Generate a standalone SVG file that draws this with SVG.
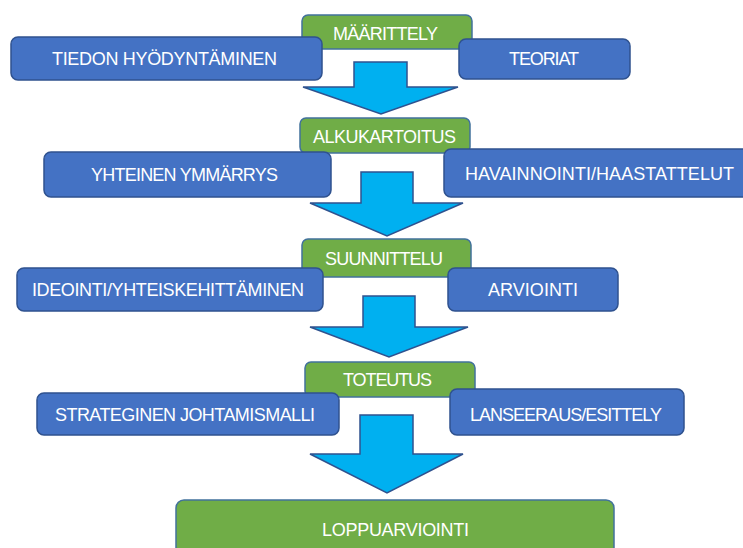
<svg xmlns="http://www.w3.org/2000/svg" width="743" height="548" viewBox="0 0 743 548">
<style>
.g{fill:#70AD47;stroke:#41719C;stroke-width:1.5}
.b{fill:#4472C4;stroke:#2F528F;stroke-width:1.5}
.a{fill:#00B0F0;stroke:#2F528F;stroke-width:1.5;stroke-linejoin:miter}
text{font-family:"Liberation Sans",Arial,sans-serif;font-size:18px;fill:#FFFFFF;text-anchor:middle}
</style>
<rect width="743" height="548" fill="#FFFFFF"/>
<g id="connectors">
<path class="a" d="M354,62 H407 V87 H458 L381,114 L303,87 H354 Z"/>
<path class="a" d="M361,172 H413 V203 H463 L387,236 L310,203 H361 Z"/>
<path class="a" d="M363,296 H415 V327 H468 L389,357 L310,327 H363 Z"/>
<path class="a" d="M360,415 H413 V454 H463 L387,493 L310,454 H360 Z"/>
</g>
<g id="maarittely"><rect class="g" x="302" y="15" width="170" height="34" rx="6"/><text x="385.5" y="40" textLength="105" lengthAdjust="spacing">MÄÄRITTELY</text></g>
<g id="tiedon"><rect class="b" x="11" y="37" width="311" height="43" rx="7"/><text x="164.5" y="65" textLength="225" lengthAdjust="spacing">TIEDON HYÖDYNTÄMINEN</text></g>
<g id="teoriat"><rect class="b" x="459" y="39" width="171" height="40" rx="7"/><text x="544" y="65" textLength="70" lengthAdjust="spacing">TEORIAT</text></g>
<g id="alkukartoitus"><rect class="g" x="300" y="118" width="170" height="35" rx="6"/><text x="384.5" y="143" textLength="143" lengthAdjust="spacing">ALKUKARTOITUS</text></g>
<g id="yhteinen"><rect class="b" x="44" y="152" width="287" height="45" rx="7"/><text x="184.5" y="181" textLength="187" lengthAdjust="spacing">YHTEINEN YMMÄRRYS</text></g>
<g id="havainnointi"><rect class="b" x="444" y="149" width="305" height="48" rx="7"/><text x="599.5" y="180" textLength="269" lengthAdjust="spacing">HAVAINNOINTI/HAASTATTELUT</text></g>
<g id="suunnittelu"><rect class="g" x="302" y="239" width="169" height="38" rx="6"/><text x="384" y="265" textLength="118" lengthAdjust="spacing">SUUNNITTELU</text></g>
<g id="ideointi"><rect class="b" x="17" y="268" width="306" height="43" rx="7"/><text x="168" y="296" textLength="272" lengthAdjust="spacing">IDEOINTI/YHTEISKEHITTÄMINEN</text></g>
<g id="arviointi"><rect class="b" x="448" y="268" width="170" height="43" rx="7"/><text x="533" y="296" textLength="90" lengthAdjust="spacing">ARVIOINTI</text></g>
<g id="toteutus"><rect class="g" x="305" y="362" width="170" height="35" rx="6"/><text x="387.5" y="386" textLength="89" lengthAdjust="spacing">TOTEUTUS</text></g>
<g id="strateginen"><rect class="b" x="37" y="393" width="302" height="42" rx="7"/><text x="185" y="421" textLength="260" lengthAdjust="spacing">STRATEGINEN JOHTAMISMALLI</text></g>
<g id="lanseeraus"><rect class="b" x="450" y="389" width="234" height="46" rx="7"/><text x="566" y="421" textLength="192" lengthAdjust="spacing">LANSEERAUS/ESITTELY</text></g>
<g id="loppuarviointi"><rect class="g" x="176" y="500" width="438" height="62" rx="8"/><text x="395.5" y="536" textLength="147" lengthAdjust="spacing">LOPPUARVIOINTI</text></g>
</svg>
